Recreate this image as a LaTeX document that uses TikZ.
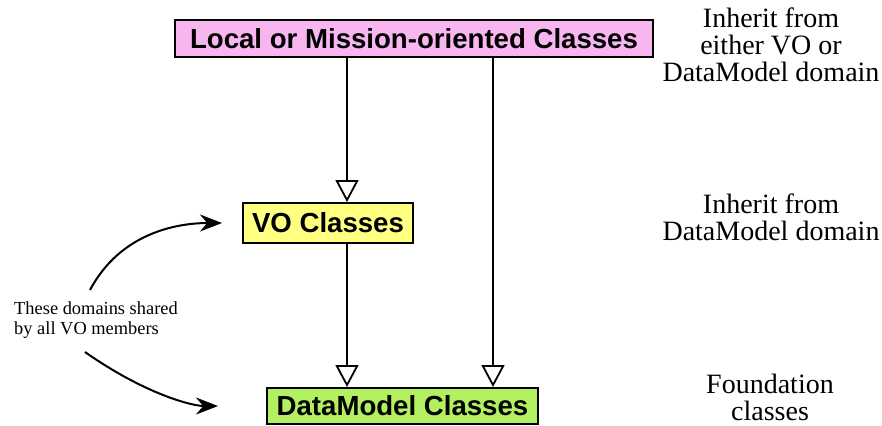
\documentclass[tikz,border=0pt]{standalone}
\usepackage{fontspec}
\setmainfont{Liberation Serif}
\newfontfamily\boxfont{Liberation Sans}
\usetikzlibrary{arrows.meta,positioning}
\definecolor{lpink}{RGB}{248,182,240}
\definecolor{lyellow}{RGB}{255,255,128}
\definecolor{lgreen}{RGB}{178,240,98}
\tikzset{cls/.style={draw, line width=1pt, inner sep=0pt, font=\boxfont\bfseries\fontsize{13.8}{14}\selectfont},
  note/.style={align=center, font=\fontsize{14}{13.5}\selectfont},
  inh/.style={-{Triangle[open, length=11pt, width=11.5pt, line width=0.9pt]}, line width=0.9pt},
  share/.style={-{Stealth[length=11pt, width=8.5pt]}, line width=1pt}}
\begin{document}
\begin{tikzpicture}[x=0.5pt, y=0.5pt]
\useasboundingbox (0,0) rectangle (882,-425);
% class boxes
\node[cls, fill=lpink, minimum width=239pt, minimum height=18.5pt] (loc) at (414,-38.5) {Local or Mission-oriented Classes};
\node[cls, fill=lyellow, minimum width=85pt, minimum height=20pt] (vo) at (328,-223) {VO Classes};
\node[cls, fill=lgreen, minimum width=135.5pt, minimum height=18pt] (dm) at (402.5,-406) {DataModel Classes};
% notes
\node[note] (n1) at (771,-45) {Inherit from\\either VO or\\DataModel domain};
\node[note] (n2) at (771,-217) {Inherit from\\DataModel domain};
\node[note] (n3) at (770,-397) {Foundation\\classes};
\node[align=left, font=\fontsize{9.2}{10}\selectfont] (sh) at (96,-320) {These domains shared\\by all VO members};
% inheritance lines
\coordinate (xa) at (347,0);
\coordinate (xb) at (493,0);
\draw[inh] (loc.south -| xa) -- (vo.north -| xa);
\draw[inh] (vo.south -| xa) -- (dm.north -| xa);
\draw[inh] (loc.south -| xb) -- (dm.north -| xb);
% shared domains
\coordinate (u) at (90,-290);
\coordinate (d) at (85,-352);
\draw[share, shorten >=10pt] (u) to[out=62, in=180] (vo.west);
\draw[share, shorten >=24pt] (d) to[out=-35, in=180] (dm.west);
\end{tikzpicture}
\end{document}
